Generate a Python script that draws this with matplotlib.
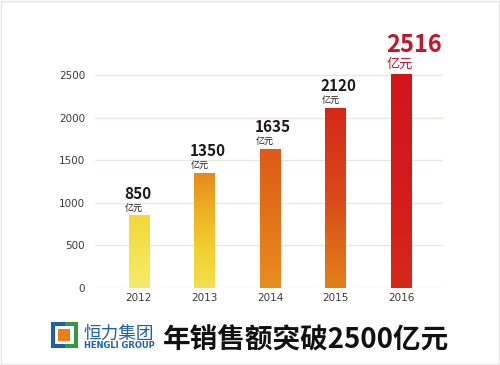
import numpy as np
import matplotlib
matplotlib.use('Agg')
import matplotlib.pyplot as plt
from matplotlib.patches import Rectangle
from matplotlib.colors import LinearSegmentedColormap

plt.rcParams['font.family'] = ['Noto Sans CJK SC', 'DejaVu Sans']

# data
years = ['2012', '2013', '2014', '2015', '2016']
sales = [850, 1350, 1635, 2120, 2516]
unit = '亿元'
title = '年销售额突破2500亿元'
company = '恒力集团'
company_en = 'HENGLI GROUP'

# bar gradients, top -> bottom
GRADIENTS = [
    ['#f2d838', '#f4e250', '#f6ea6a'],
    ['#e78a1c', '#eeb124', '#f2d030', '#f4df4c'],
    ['#dd5a17', '#e2741a', '#e98d1e'],
    ['#d52619', '#da4a19', '#e28117'],
    ['#d3151b', '#d41b1b', '#d7271a'],
]
LABEL_COLORS = ['#1a1a1a'] * 4 + ['#c0172a']

W, H = 500, 365
fig = plt.figure(figsize=(W / 100, H / 100), dpi=100)


def px(x, y):
    # pixel coords (from top-left) -> figure fraction
    return x / W, 1 - y / H


# axes: gridlines span x 95..443, zero at y 287.7
ax = fig.add_axes([95 / W, 77.3 / H, 348 / W, 246.4 / H])
for s in ax.spines.values():
    s.set_visible(False)
ax.set_yticks([0, 500, 1000, 1500, 2000, 2500])
ax.set_xticks(range(len(years)))
ax.set_xticklabels(years)
ax.tick_params(length=0, labelsize=7.5, labelcolor='#3a3a3a')
ax.tick_params(axis='y', pad=7)
ax.tick_params(axis='x', pad=4)
for lbl in ax.get_xticklabels() + ax.get_yticklabels():
    lbl.set_family('DejaVu Sans')
ax.yaxis.grid(True, color='#ece6e0', linewidth=1)
ax.set_axisbelow(True)

bars = ax.bar(range(len(years)), sales, width=0.31, color='none', linewidth=0)
for bar, cols in zip(bars, GRADIENTS):
    cmap = LinearSegmentedColormap.from_list('g', cols)
    grad = np.linspace(0, 1, 256).reshape(-1, 1)
    x0, w, h = bar.get_x(), bar.get_width(), bar.get_height()
    im = ax.imshow(grad, cmap=cmap, aspect='auto', extent=[x0, x0 + w, 0, h],
                   origin='upper', zorder=2)
    im.set_clip_path(bar)
ax.set_xlim(-0.67, 4.64)
ax.set_ylim(0, 2900)

# value labels
for i, (bar, val) in enumerate(zip(bars, sales)):
    big = i == len(sales) - 1
    xl = bar.get_x()
    top = bar.get_height()
    ax.annotate(unit, (xl, top), xytext=(-4, 6.5 if big else 5),
                textcoords='offset pixels', ha='left', va='baseline',
                fontsize=9.5 if big else 6.5, color=LABEL_COLORS[i],
                annotation_clip=False)
    ax.annotate(str(val), (xl, top), xytext=(-5, 21.5 if big else 16.5),
                textcoords='offset pixels', ha='left', va='baseline',
                fontsize=17 if big else 11, fontweight='bold',
                color=LABEL_COLORS[i], annotation_clip=False)


# footer logo
def rect(x0, y0, x1, y1, color):
    fx0, fy1 = px(x0, y0)
    fx1, fy0 = px(x1, y1)
    fig.patches.append(Rectangle((fx0, fy0), fx1 - fx0, fy1 - fy0,
                                 transform=fig.transFigure, color=color,
                                 linewidth=0))


rect(51, 322, 64.5, 348, '#1d5fae')
rect(64.5, 322, 78, 348, '#2f9a46')
rect(55, 326, 74, 344, 'white')
rect(58, 329, 70, 341, '#ec7d17')

fig.text(*px(84, 339), company, fontsize=12.7, color='#1f5fae',
         ha='left', va='baseline')
fig.text(*px(84, 348.5), company_en, fontsize=6, fontweight='bold',
         color='#1f5fae', ha='left', va='baseline', family='DejaVu Sans')
fig.text(*px(163, 349), title, fontsize=19.9, fontweight='bold',
         color='#111111', ha='left', va='baseline')

# faint frame
fig.patches.append(Rectangle((0.002, 0.002), 0.995, 0.995,
                             transform=fig.transFigure, fill=False,
                             edgecolor='#e6e6e6', linewidth=1))

fig.savefig('out.png', dpi=100, facecolor='white')
